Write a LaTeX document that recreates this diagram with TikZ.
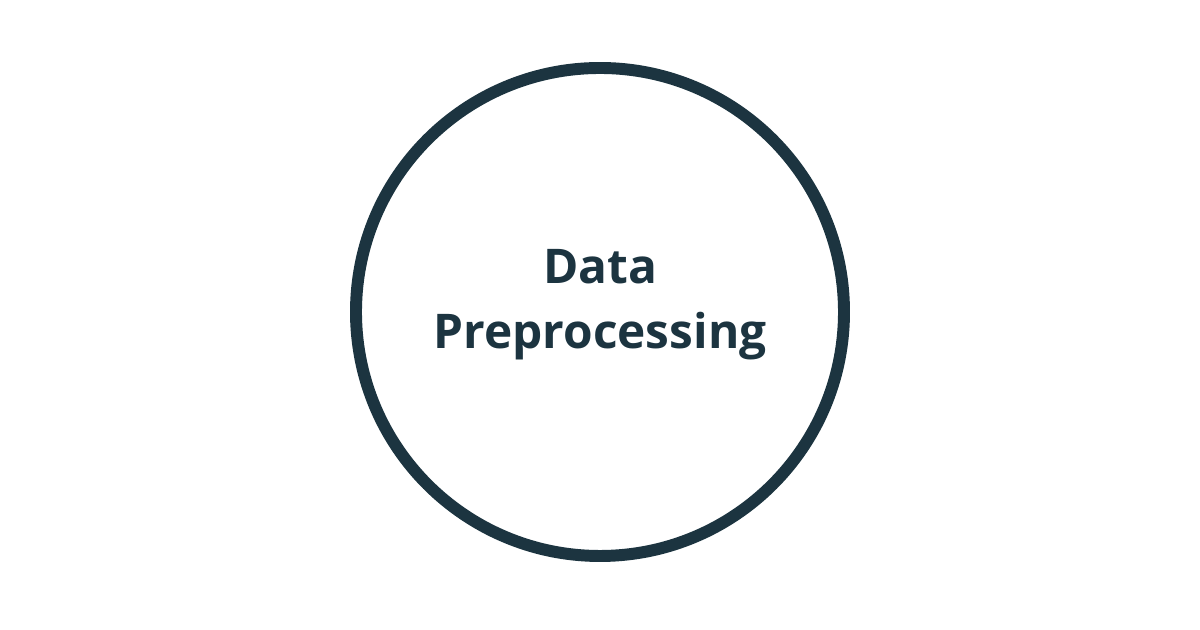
\documentclass[tikz,border=0pt]{standalone}
\usepackage{fontspec}
\setmainfont{Open Sans}
\usepackage{tikz}
\usetikzlibrary{positioning}
\definecolor{ink}{HTML}{1C3440}

\begin{document}
\begin{tikzpicture}[
      ring/.style={circle, draw=ink, line width=3.4pt, minimum size=4.88cm, inner sep=0pt},
      title/.style={text=ink, align=center, font=\fontsize{13.6}{18.6}\selectfont\bfseries}
    ]
    \useasboundingbox[fill=white] (0,0) rectangle (12,6.3);
    \node[ring] (stage) at (6,3.18) {};
    \node[title] (name) at (6,3.25) {Data\\Preprocessing};
  \end{tikzpicture}
\end{document}
